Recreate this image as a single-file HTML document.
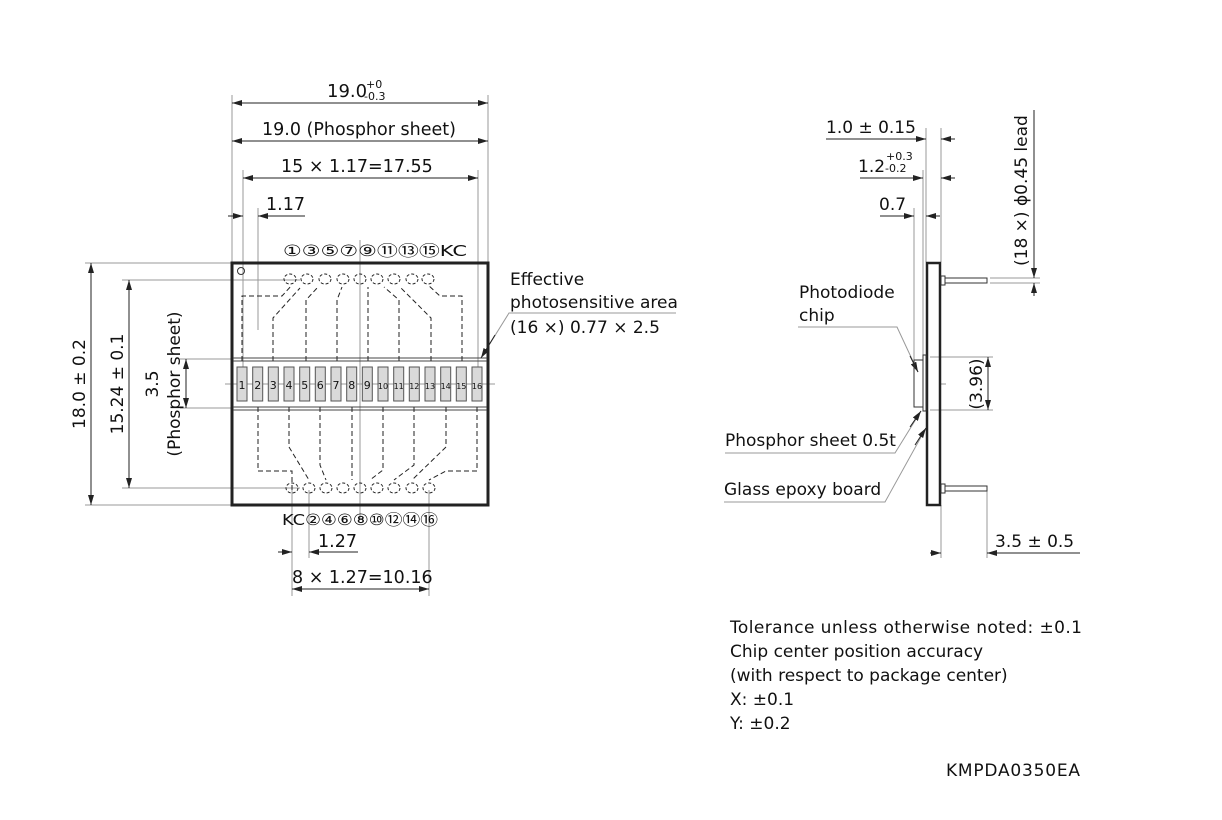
<!DOCTYPE html>
<html><head><meta charset="utf-8"><style>
html,body{margin:0;padding:0;background:#fff}
svg{display:block}
text{font-family:"DejaVu Sans","Liberation Sans",sans-serif;fill:#111}
</style></head><body>
<svg width="1222" height="820" viewBox="0 0 1222 820" xmlns="http://www.w3.org/2000/svg">
<defs>
<marker id="a" viewBox="0 0 10 6" refX="10" refY="3" markerWidth="10" markerHeight="6" orient="auto-start-reverse" markerUnits="userSpaceOnUse"><path d="M0,0 L10,3 L0,6 z" fill="#222"/></marker>
</defs>
<g stroke="#999" stroke-width="1" fill="none">
<line x1="232" y1="95" x2="232" y2="262"/><line x1="488" y1="95" x2="488" y2="262"/>
<line x1="243" y1="170" x2="243" y2="367"/><line x1="478" y1="170" x2="478" y2="367"/>
<line x1="258" y1="208" x2="258" y2="330"/>
<line x1="85" y1="263" x2="232" y2="263"/><line x1="85" y1="505" x2="232" y2="505"/>
<line x1="122" y1="280" x2="300" y2="280"/><line x1="122" y1="488" x2="300" y2="488"/>
<line x1="180" y1="359" x2="232" y2="359"/><line x1="180" y1="408" x2="232" y2="408"/>
<line x1="360" y1="240" x2="360" y2="520"/><line x1="225" y1="384" x2="495" y2="384"/>
<line x1="292" y1="490" x2="292" y2="596"/><line x1="309" y1="490" x2="309" y2="558"/>
<line x1="429" y1="490" x2="429" y2="596"/>
<line x1="926" y1="128" x2="926" y2="262"/><line x1="941" y1="128" x2="941" y2="262"/>
<line x1="923" y1="170" x2="923" y2="355"/>
<line x1="914" y1="208" x2="914" y2="360"/>
<line x1="990" y1="278" x2="1040" y2="278"/><line x1="990" y1="283" x2="1040" y2="283"/>
<line x1="930" y1="357" x2="993" y2="357"/><line x1="930" y1="410" x2="993" y2="410"/>
<line x1="940" y1="384" x2="946" y2="384"/>
<line x1="941" y1="505" x2="941" y2="558"/><line x1="987" y1="490" x2="987" y2="558"/>
<polyline points="676,313 509,313 481,358"/>
<polyline points="798,327 897,327 918,372"/>
<polyline points="725,453 895,453 921,411"/>
<polyline points="724,502 885,502 926,428"/>
</g>
<g stroke="#222" stroke-width="1" fill="none">
<line x1="495" y1="335" x2="481" y2="358" marker-end="url(#a)"/>
<line x1="910" y1="356" x2="918" y2="372" marker-end="url(#a)"/>
<line x1="910" y1="427" x2="921" y2="411" marker-end="url(#a)"/>
<line x1="915" y1="445" x2="926" y2="428" marker-end="url(#a)"/>
</g>
<g stroke="#222" stroke-width="1" fill="none">
<line x1="232" y1="103" x2="488" y2="103" marker-start="url(#a)" marker-end="url(#a)"/>
<line x1="232" y1="141" x2="488" y2="141" marker-start="url(#a)" marker-end="url(#a)"/>
<line x1="243" y1="178" x2="478" y2="178" marker-start="url(#a)" marker-end="url(#a)"/>
<line x1="228" y1="216" x2="243" y2="216" marker-end="url(#a)"/>
<line x1="305" y1="216" x2="258" y2="216" marker-end="url(#a)"/>
<line x1="91" y1="263" x2="91" y2="505" marker-start="url(#a)" marker-end="url(#a)"/>
<line x1="129" y1="280" x2="129" y2="488" marker-start="url(#a)" marker-end="url(#a)"/>
<line x1="186" y1="359" x2="186" y2="408" marker-start="url(#a)" marker-end="url(#a)"/>
<line x1="278" y1="552" x2="292" y2="552" marker-end="url(#a)"/>
<line x1="358" y1="552" x2="309" y2="552" marker-end="url(#a)"/>
<line x1="292" y1="589" x2="429" y2="589" marker-start="url(#a)" marker-end="url(#a)"/>
<line x1="826" y1="139" x2="926" y2="139" marker-end="url(#a)"/>
<line x1="955" y1="139" x2="941" y2="139" marker-end="url(#a)"/>
<line x1="860" y1="178" x2="923" y2="178" marker-end="url(#a)"/>
<line x1="955" y1="178" x2="941" y2="178" marker-end="url(#a)"/>
<line x1="880" y1="216" x2="914" y2="216" marker-end="url(#a)"/>
<line x1="940" y1="216" x2="926" y2="216" marker-end="url(#a)"/>
<line x1="1034" y1="110" x2="1034" y2="278" marker-end="url(#a)"/>
<line x1="1034" y1="296" x2="1034" y2="283" marker-end="url(#a)"/>
<line x1="988" y1="357" x2="988" y2="410" marker-start="url(#a)" marker-end="url(#a)"/>
<line x1="930" y1="553" x2="941" y2="553" marker-end="url(#a)"/>
<line x1="1080" y1="553" x2="987" y2="553" marker-end="url(#a)"/>
</g>
<rect x="232" y="263" width="256" height="242" fill="none" stroke="#222" stroke-width="3"/>
<circle cx="241" cy="271" r="3.5" fill="none" stroke="#333" stroke-width="1"/>
<g stroke="#444" stroke-width="1">
<line x1="233" y1="358" x2="487" y2="358"/><line x1="233" y1="361" x2="487" y2="361"/>
<line x1="233" y1="407" x2="487" y2="407"/><line x1="233" y1="410" x2="487" y2="410"/>
</g>
<g stroke="#222" stroke-width="1" fill="none" stroke-dasharray="5,3">
<polyline points="242,361 242,296 282,296 292,285"/>
<polyline points="273,361 273,318 300,288"/>
<polyline points="306,361 306,300 318,287"/>
<polyline points="337,361 337,300 342,287"/>
<polyline points="368,361 368,287"/>
<polyline points="399,361 399,300 384,287"/>
<polyline points="431,361 431,318 401,288"/>
<polyline points="462,361 462,296 440,296 428,285"/>
<polyline points="258,407 258,471 292,471 292,492"/>
<polyline points="289,407 289,447 309,480"/>
<polyline points="320,407 320,465 326,480"/>
<polyline points="352,407 352,480"/>
<polyline points="383,407 383,470 370,480"/>
<polyline points="414,407 414,465 394,480"/>
<polyline points="446,407 446,447 412,480"/>
<polyline points="477,407 477,471 446,471 429,480"/>
</g>
<g stroke="#222" stroke-width="1" fill="none" stroke-dasharray="3,2">
<ellipse cx="290" cy="279" rx="6" ry="5"/><ellipse cx="307" cy="279" rx="6" ry="5"/><ellipse cx="325" cy="279" rx="6" ry="5"/><ellipse cx="343" cy="279" rx="6" ry="5"/><ellipse cx="360" cy="279" rx="6" ry="5"/><ellipse cx="377" cy="279" rx="6" ry="5"/><ellipse cx="394" cy="279" rx="6" ry="5"/><ellipse cx="412" cy="279" rx="6" ry="5"/><ellipse cx="428" cy="279" rx="6" ry="5"/>
<ellipse cx="292" cy="488" rx="6" ry="5"/><ellipse cx="309" cy="488" rx="6" ry="5"/><ellipse cx="326" cy="488" rx="6" ry="5"/><ellipse cx="343" cy="488" rx="6" ry="5"/><ellipse cx="360" cy="488" rx="6" ry="5"/><ellipse cx="377" cy="488" rx="6" ry="5"/><ellipse cx="394" cy="488" rx="6" ry="5"/><ellipse cx="412" cy="488" rx="6" ry="5"/><ellipse cx="429" cy="488" rx="6" ry="5"/>
</g>
<g fill="#d9d9d9" stroke="#555" stroke-width="1">
<rect x="237" y="367" width="10" height="34"/><rect x="252.7" y="367" width="10" height="34"/><rect x="268.3" y="367" width="10" height="34"/><rect x="284" y="367" width="10" height="34"/><rect x="299.7" y="367" width="10" height="34"/><rect x="315.3" y="367" width="10" height="34"/><rect x="331" y="367" width="10" height="34"/><rect x="346.7" y="367" width="10" height="34"/><rect x="362.3" y="367" width="10" height="34"/><rect x="378" y="367" width="10" height="34"/><rect x="393.7" y="367" width="10" height="34"/><rect x="409.3" y="367" width="10" height="34"/><rect x="425" y="367" width="10" height="34"/><rect x="440.7" y="367" width="10" height="34"/><rect x="456.3" y="367" width="10" height="34"/><rect x="472" y="367" width="10" height="34"/>
</g>
<g font-size="11" text-anchor="middle">
<text x="242" y="389">1</text><text x="257.7" y="389">2</text><text x="273.3" y="389">3</text><text x="289" y="389">4</text><text x="304.7" y="389">5</text><text x="320.3" y="389">6</text><text x="336" y="389">7</text><text x="351.7" y="389">8</text><text x="367.3" y="389">9</text>
<text x="383" y="389" font-size="8">10</text><text x="398.7" y="389" font-size="8">11</text><text x="414.3" y="389" font-size="8">12</text><text x="430" y="389" font-size="8">13</text><text x="445.7" y="389" font-size="8">14</text><text x="461.3" y="389" font-size="8">15</text><text x="477" y="389" font-size="8">16</text>
</g>
<rect x="927" y="263" width="13" height="242" fill="none" stroke="#222" stroke-width="2.5"/>
<g fill="none" stroke="#333" stroke-width="1">
<rect x="941" y="276" width="4" height="9"/><rect x="945" y="278" width="42" height="5"/>
<rect x="941" y="484" width="4" height="9"/><rect x="945" y="486" width="42" height="5"/>
<rect x="914" y="360" width="9" height="47"/>
<rect x="923" y="355" width="3" height="56"/>
</g>
<g font-size="17">
<text x="327" y="97" font-size="18">19.0</text><text x="366" y="88" font-size="11">+0</text><text x="364" y="100" font-size="11">-0.3</text>
<text x="262" y="135" font-size="17.5">19.0 (Phosphor sheet)</text>
<text x="281" y="172" font-size="17.5">15 × 1.17=17.55</text>
<text x="266" y="210" font-size="17.5">1.17</text>
<text x="318" y="547" font-size="17.5">1.27</text>
<text x="292" y="583" font-size="17.5">8 × 1.27=10.16</text>
<text transform="translate(85,384) rotate(-90)" text-anchor="middle">18.0 ± 0.2</text>
<text transform="translate(123,384) rotate(-90)" text-anchor="middle">15.24 ± 0.1</text>
<text transform="translate(158,384) rotate(-90)" text-anchor="middle">3.5</text>
<text transform="translate(180,384) rotate(-90)" text-anchor="middle">(Phosphor sheet)</text>
<text x="510" y="285">Effective</text>
<text x="510" y="308">photosensitive area</text>
<text x="510" y="333">(16 ×) 0.77 × 2.5</text>
<text x="826" y="133">1.0 ± 0.15</text>
<text x="858" y="172">1.2</text><text x="886" y="160" font-size="11">+0.3</text><text x="885" y="172" font-size="11">-0.2</text>
<text x="879" y="210">0.7</text>
<text transform="translate(1027,266) rotate(-90)">(18 ×) ϕ0.45 lead</text>
<text transform="translate(982,384) rotate(-90)" text-anchor="middle">(3.96)</text>
<text x="799" y="298">Photodiode</text>
<text x="799" y="321">chip</text>
<text x="725" y="446">Phosphor sheet 0.5t</text>
<text x="724" y="495">Glass epoxy board</text>
<text x="995" y="547">3.5 ± 0.5</text>
<text x="730" y="633" textLength="352">Tolerance unless otherwise noted: ±0.1</text>
<text x="730" y="657">Chip center position accuracy</text>
<text x="730" y="681">(with respect to package center)</text>
<text x="730" y="705">X: ±0.1</text>
<text x="730" y="729">Y: ±0.2</text>
<text x="946" y="776" textLength="134">KMPDA0350EA</text>
</g>
<g font-size="15.5">
<text x="283" y="256" textLength="184" lengthAdjust="spacingAndGlyphs">①③⑤⑦⑨⑪⑬⑮KC</text>
<text x="282" y="525" textLength="156" lengthAdjust="spacingAndGlyphs">KC②④⑥⑧⑩⑫⑭⑯</text>
</g>
</svg>
</body></html>
